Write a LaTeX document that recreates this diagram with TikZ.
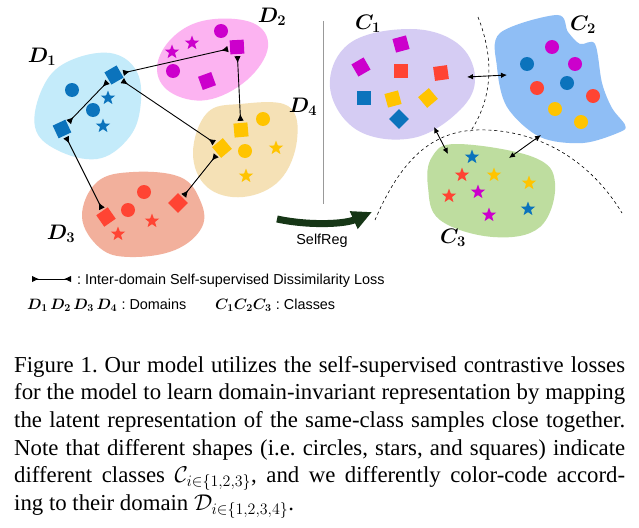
\RequirePackage{fix-cm}
\documentclass[tikz,border=0pt]{standalone}
\usepackage{fontspec}
\setmainfont{Liberation Serif}
\setsansfont{Liberation Sans}
\usepackage{amsmath,bm}
\usetikzlibrary{shapes.geometric,arrows.meta}
\frenchspacing
\definecolor{fcyan}{HTML}{C4EBFA}
\definecolor{fpink}{HTML}{FCB3F1}
\definecolor{ftan}{HTML}{F5E1B6}
\definecolor{fsalmon}{HTML}{F2B09C}
\definecolor{flav}{HTML}{D5CCF3}
\definecolor{fsky}{HTML}{8FBEF5}
\definecolor{fgreen}{HTML}{BEDD9F}
\definecolor{mblue}{HTML}{0B73BC}
\definecolor{mmag}{HTML}{CC00CC}
\definecolor{mred}{HTML}{FF4433}
\definecolor{myel}{HTML}{FFC400}
\definecolor{srgreen}{HTML}{163616}
\tikzset{
	sq/.style={rectangle, fill=#1, minimum size=14pt, inner sep=0pt},
	dot/.style={circle, fill=#1, minimum size=14pt, inner sep=0pt},
	starm/.style={star, star points=5, star point ratio=2.4, fill=#1, minimum size=15pt, inner sep=0pt},
	dis/.style={line width=0.9pt, {Latex[reversed,length=7pt,width=6.5pt]}-{Latex[reversed,length=7pt,width=6.5pt]}},
	sim/.style={line width=0.9pt, {Latex[length=6pt,width=5.5pt]}-{Latex[length=6pt,width=5.5pt]}},
	lab/.style={inner sep=0pt, font=\fontsize{21}{21}\selectfont},
	leglab/.style={inner sep=0pt, font=\fontsize{15}{15}\selectfont},
	legtext/.style={inner sep=0pt, font=\sffamily\fontsize{14.4}{14.4}\selectfont},
}
\begin{document}
\begin{tikzpicture}[x=1pt,y=-1pt]
	\fill[white] (0,0) rectangle (639,527);
	\useasboundingbox (0,0) rectangle (639,527);
	% domains
	\fill[fcyan] plot[smooth cycle, tension=0.65] coordinates {(110,53) (137,72) (140,110) (127,140) (97,159) (57,150) (35,127) (43,87) (67,62)};
	\fill[fpink] plot[smooth cycle, tension=0.65] coordinates {(157,67) (173,37) (207,20) (253,23) (268,47) (247,80) (207,100) (170,92)};
	\fill[ftan] plot[smooth cycle, tension=0.65] coordinates {(207,113) (240,104) (288,106) (297,140) (280,180) (243,197) (207,187) (193,153)};
	\fill[fsalmon] plot[smooth cycle, tension=0.65] coordinates {(97,182) (133,172) (180,177) (200,200) (202,227) (175,250) (130,257) (100,248) (82,217)};
	\foreach \x/\y/\r [count=\k] in {114/75/30, 62/129/25}
		\node[sq=mblue, rotate=\r] (d1-s\k) at (\x,\y) {};
	\foreach \x/\y/\r [count=\k] in {237/47/3, 207/81/20}
		\node[sq=mmag, rotate=\r] (d2-s\k) at (\x,\y) {};
	\foreach \x/\y/\r [count=\k] in {241/130/5, 222/148/40}
		\node[sq=myel, rotate=\r] (d4-s\k) at (\x,\y) {};
	\foreach \x/\y/\r [count=\k] in {106/217/35, 178/203/45}
		\node[sq=mred, rotate=\r] (d3-s\k) at (\x,\y) {};
	\foreach \c/\xa/\ya/\xb/\yb/\xc/\yc/\xd/\yd [count=\k] in {mblue/72/90/93/110/108/98/103/126, mmag/221/31/173/71/192/43/172/52, myel/263/119/245/151/276/148/246/176, mred/144/192/128/210/152/221/118/234}{
		\node[dot=\c] (dom\k-c1) at (\xa,\ya) {};
		\node[dot=\c] (dom\k-c2) at (\xb,\yb) {};
		\node[starm=\c] (dom\k-t1) at (\xc,\yc) {};
		\node[starm=\c] (dom\k-t2) at (\xd,\yd) {};
	}
	\draw[dis, shorten <=2pt, shorten >=2pt] (d1-s1) -- (d2-s1);
	\draw[dis, shorten <=2pt, shorten >=2pt] (d2-s1) -- (d4-s1);
	\draw[dis, shorten <=2pt, shorten >=2pt] (d1-s1) -- (d4-s2);
	\draw[dis, shorten <=2pt, shorten >=2pt] (d1-s1) -- (d1-s2);
	\draw[dis, shorten <=2pt, shorten >=2pt] (d1-s2) -- (d3-s1);
	\draw[dis, shorten <=2pt, shorten >=2pt] (d4-s2) -- (d3-s2);
	\node[lab] (lab-d1) at (42,57) {$\bm{D_1}$};
	\node[lab] (lab-d2) at (272,17) {$\bm{D_2}$};
	\node[lab] (lab-d3) at (61,234) {$\bm{D_3}$};
	\node[lab] (lab-d4) at (303,107) {$\bm{D_4}$};
	% separator and SelfReg arrow
	\draw[gray!80, line width=0.8pt] (323,21) -- (323,204);
	\coordinate (sr-a) at (277,219);
	\coordinate (sr-b) at (372,212);
	\draw[srgreen, line width=7pt, -{Triangle[length=20pt,width=18pt]}] (sr-a) .. controls (310,226) and (345,224) .. (sr-b);
	\node[legtext] (selfreg) at (322,241) {SelfReg};
	% classes
	\draw[dashed, line width=0.6pt] (478,17) .. controls (495,60) and (492,100) .. (470,132);
	\draw[dashed, line width=0.6pt] (375,220) .. controls (405,150) and (440,128) .. (487,130) .. controls (540,132) and (590,160) .. (622,213);
	\fill[flav] plot[smooth cycle, tension=0.65] coordinates {(410,29) (457,43) (475,77) (460,110) (413,138) (357,130) (330,87) (350,43)};
	\fill[fsky] plot[smooth cycle, tension=0.55] coordinates {(500,33) (557,15) (568,32) (580,44) (595,44) (602,83) (612,108) (625,125) (620,132) (583,143) (540,137) (507,107) (497,67)};
	\fill[fgreen] plot[smooth cycle, tension=0.65] coordinates {(457,144) (533,157) (555,183) (540,227) (493,237) (440,220) (428,187) (432,157)};
	\foreach \x/\y/\c/\r [count=\k] in {401/44/mmag/15, 361/67/mmag/30, 401/71/mred/0, 441/73/mred/8, 364/98/mblue/0, 393/99/myel/15, 428/98/myel/40, 399/119/mblue/45}
		\node[sq=\c, rotate=\r] (c1-\k) at (\x,\y) {};
	\foreach \x/\y/\c [count=\k] in {552/47/mmag, 527/64/mblue, 575/64/mmag, 537/88/mred, 567/83/mblue, 593/96/mred, 555/109/myel, 581/122/myel}
		\node[dot=\c] (c2-\k) at (\x,\y) {};
	\foreach \x/\y/\c [count=\k] in {472/157/mblue, 462/175/mred, 494/175/myel, 529/183/myel, 478/192/mmag, 449/196/mred, 489/215/mmag, 528/209/mblue}
		\node[starm=\c] (c3-\k) at (\x,\y) {};
	\coordinate (ra1) at (467,77);
	\coordinate (ra2) at (507,75);
	\coordinate (rb1) at (434,127);
	\coordinate (rb2) at (448,154);
	\coordinate (rc1) at (541,135);
	\coordinate (rc2) at (509,158);
	\draw[sim] (ra1) -- (ra2);
	\draw[sim] (rb1) -- (rb2);
	\draw[sim] (rc1) -- (rc2);
	\node[lab] (lab-c1) at (368,24) {$\bm{C_1}$};
	\node[lab] (lab-c2) at (583,25) {$\bm{C_2}$};
	\node[lab] (lab-c3) at (453,238) {$\bm{C_3}$};
	% legend
	\coordinate (leg-a) at (32,279);
	\coordinate (leg-b) at (71,279);
	\draw[dis] (leg-a) -- (leg-b);
	\node[legtext, anchor=base west] (leg-t1) at (77,284) {: Inter-domain Self-supervised Dissimilarity Loss};
	\node[leglab, anchor=base west] (leg-d) at (27,309) {$\bm{D_1\,D_2\,D_3\,D_4}$};
	\node[legtext, anchor=base west] (leg-dt) at ([xshift=4pt]leg-d.base east) {: Domains};
	\node[leglab, anchor=base west] (leg-c) at (215,309) {$\bm{C_1C_2C_3}$};
	\node[legtext, anchor=base west] (leg-ct) at ([xshift=4pt]leg-c.base east) {: Classes};
	% caption
	\node[anchor=north west, inner sep=0pt, align=left, font=\fontsize{22.8}{27.6}\selectfont] (cap) at (14,356) {%
		\makebox[611pt][s]{Figure 1. Our model utilizes the self-supervised contrastive losses}\\
		\makebox[611pt][s]{for the model to learn domain-invariant representation by mapping}\\
		\makebox[611pt][s]{the latent representation of the same-class samples close together.}\\
		\makebox[611pt][s]{Note that different shapes (i.e. circles, stars, and squares) indicate}\\
		\makebox[611pt][s]{different classes $\mathcal{C}_{i\in\{1,2,3\}}$, and we differently color-code accord-}\\
		ing to their domain $\mathcal{D}_{i\in\{1,2,3,4\}}$.};
\end{tikzpicture}
\end{document}
